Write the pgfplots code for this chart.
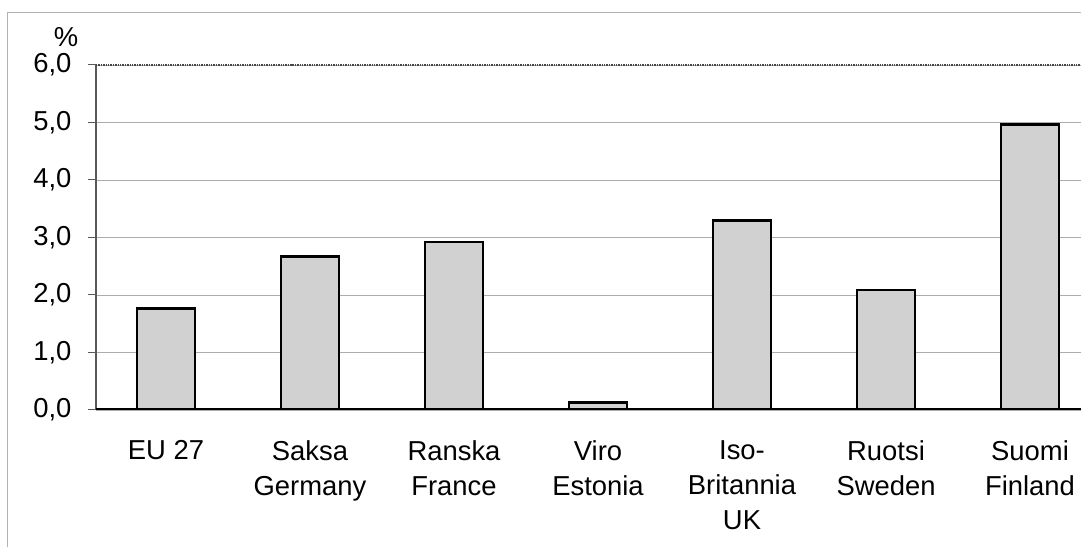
\documentclass[border=0pt]{standalone}
\usepackage{fontspec}
\setmainfont{Liberation Sans}
\usepackage{pgfplots}
\pgfplotsset{compat=1.18}
\begin{document}
\begin{tikzpicture}[x=1bp,y=1bp]
\begin{axis}[
  scale only axis, width=985bp, height=345bp,
  xmin=-0.486, xmax=6.354, ymin=0, ymax=6,
  xtick={0,...,6},
  xticklabels={{EU 27},{Saksa\\Germany},{Ranska\\France},{Viro\\Estonia},{Iso-\\Britannia\\UK},{Ruotsi\\Sweden},{Suomi\\Finland}},
  ytick={0,1,...,6},
  axis x line*=bottom, axis y line*=left,
  x axis line style={draw=none},
  y axis line style={line width=1.8bp, gray!70!black, -},
  xtick style={draw=none},
  tick align=outside,
  major tick length=8bp,
  ytick style={line width=1bp, gray!70!black},
  ymajorgrids,
  grid style={gray!65, line width=0.9bp},
  yticklabel style={font=\fontsize{27.5}{34}\selectfont, xshift=-13bp},
  xticklabel style={font=\fontsize{27.5}{35}\selectfont, align=center, yshift=-19bp},
  /pgf/number format/.cd, fixed, fixed zerofill, precision=1, use comma, assume math mode=true,
]
\addplot[ybar, bar width=58bp, fill=gray!36, draw=black, line width=2.6bp]
  coordinates {(0,1.76) (1,2.67) (2,2.92) (3,0.13) (4,3.30) (5,2.09) (6,4.97)};
\draw[densely dotted, gray!55!black, line width=1.4bp] (axis cs:-0.486,6) -- (axis cs:6.354,6);
\draw[black, line width=4bp] (axis cs:-0.486,0) -- (axis cs:6.354,0);
\coordinate (O) at (axis cs:-0.486,0);
\end{axis}
\begin{scope}[shift={(O)}]
\draw[gray!60, line width=1bp] (-88.5,-137) -- (-88.5,397) -- (985,397);
\node[font=\fontsize{27.5}{34}\selectfont, anchor=base] at (-30,363) {\%};
\end{scope}
\pgfresetboundingbox
\path[use as bounding box] ([shift={(-96,-137)}]O) rectangle ([shift={(985,410)}]O);
\end{tikzpicture}
\end{document}
